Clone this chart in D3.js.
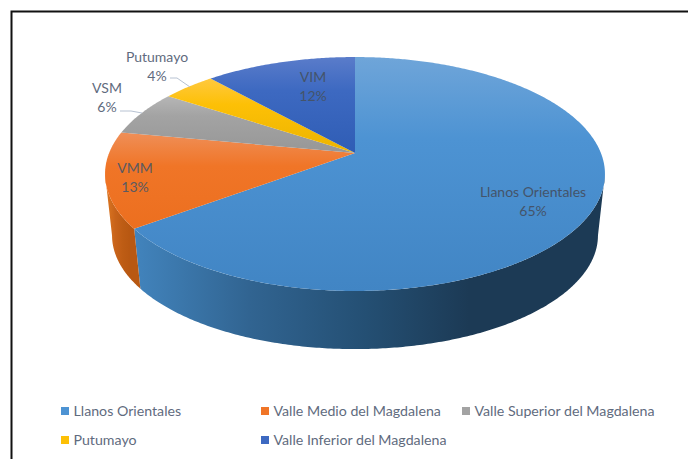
<!DOCTYPE html>
<html>
<head>
<meta charset="utf-8">
<script src="https://d3js.org/d3.v7.min.js"></script>
<style>
  html, body { margin: 0; padding: 0; background: #fff; overflow: hidden; }
  text { font-family: Lato, "Open Sans", sans-serif; }
</style>
</head>
<body>
<script>
var names = ["Llanos Orientales", "Valle Medio del Magdalena", "Valle Superior del Magdalena", "Putumayo", "Valle Inferior del Magdalena"]
var shortNames = ["Llanos Orientales", "VMM", "VSM", "Putumayo", "VIM"]
// the labels round them
var shares = [64.8, 13.2, 6.3, 4.1, 11.6]

var width = 688, height = 459

var topColors = [["#6fa5d9", "#4d93d3", "#4185c4"], ["#ef8f58", "#f07527", "#ec6f1f"], ["#b6b6b6", "#a3a3a3", "#979797"], ["#ffc93f", "#fdc006", "#ecb400"], ["#5a7cca", "#3d69c1", "#2f5db5"]]
var wallColors = [["#4284bd", "#316491", "#244f73", "#1c3a55", "#1c3a55"], ["#d87320", "#c8631a", "#bd5c14", "#b85812", "#b85812"]]

// where each inside/outside label sits, by hand as in the original
var labelPos = [[533, 192], [135, 168], [107, 88], [157, 57], [313, 77]]
var legendPos = [[61, 411], [261, 411], [462, 411], [61, 440], [261, 440]]
var leaders = [[[120, 111], [131, 111], [142, 113]], [[170, 78], [177, 78], [190, 87]]]

var svg = d3.select("body").append("svg")
            .attr("width", width)
            .attr("height", height)

var defs = svg.append("defs")

// frame, only top and left are in the crop
svg.append("path")
   .attr("d", "M11.5," + height + "V11.5H" + width)
   .attr("fill", "none")
   .attr("stroke", "#111")
   .attr("stroke-width", 2)

// disc seen in perspective: unit circle -> screen
var k = 0.1795
var scaleU = d3.scaleLinear().domain([-1, 1]).range([-245.9, 245.9])
var scaleV = d3.scaleLinear().domain([-1, 1]).range([113.2, -113.2])

function project (angle, level) {
  var u = Math.sin(angle), v = Math.cos(angle)
  var d = 1 + k * v
  if (level == "top") return [355 + scaleU(u) / d, 153 + scaleV(v) / d]
  return [355 + 0.972 * scaleU(u) / d, 215 + 0.972 * scaleV(v) / d]
}

function rim (a0, a1, level) {
  var n = Math.max(2, Math.ceil((a1 - a0) / 0.01))
  return d3.range(n + 1).map(i => project(a0 + (a1 - a0) * i / n, level))
}

var arcs = d3.pie().sort(null).value(d => d)(shares)
var line = d3.line()

// only the part of the rim between the two x extremes faces the viewer
var frontStart = Math.acos(-k)
var frontEnd = 2 * Math.PI - frontStart
var walls = arcs.filter(a => a.startAngle < frontEnd && a.endAngle > frontStart)

arcs.forEach((a, i) => {
  var tg = defs.append("linearGradient")
               .attr("id", "top" + i)
               .attr("x1", 0).attr("y1", 0).attr("x2", 0).attr("y2", 1)
  topColors[i].forEach((c, j) => {
    tg.append("stop").attr("offset", j == 0 ? 0 : j == 1 ? 0.35 : 1).attr("stop-color", c)
  })
})

walls.forEach((a, i) => {
  var wg = defs.append("linearGradient")
               .attr("id", "wall" + i)
               .attr("gradientUnits", "userSpaceOnUse")
               .attr("x1", i == 1 ? 108 : 133).attr("y1", 0)
               .attr("x2", i == 1 ? 138 : 600).attr("y2", 0)
  var offs = [0, 0.25, 0.5, 0.72, 1]
  wallColors[i].forEach((c, j) => {
    wg.append("stop").attr("offset", offs[j]).attr("stop-color", c)
  })
})

function wallPath (d) {
  var a0 = Math.max(d.startAngle, frontStart)
  var a1 = Math.min(d.endAngle, frontEnd)
  return line(rim(a0, a1, "top").concat(rim(a0, a1, "bottom").reverse())) + "Z"
}

// walls first, the top sits over them
svg.selectAll(".wall")
   .data(walls)
   .enter()
   .append("path")
   .attr("class", "wall")
   .attr("fill", (d, i) => "url(#wall" + i + ")")
   .attr("d", wallPath)

svg.selectAll(".slice")
   .data(arcs)
   .enter()
   .append("path")
   .attr("class", "slice")
   .attr("fill", (d, i) => "url(#top" + i + ")")
   .attr("d", d => line([[355, 153]].concat(rim(d.startAngle, d.endAngle, "top"))) + "Z")

svg.selectAll(".leader")
   .data(leaders)
   .enter()
   .append("path")
   .attr("class", "leader")
   .attr("fill", "none")
   .attr("stroke", "#b7c2d2")
   .attr("stroke-width", 1)
   .attr("d", d => line(d))

var labelColor = d3.scaleOrdinal().domain(d3.range(5))
                   .range(["#44546a", "#5a5a62", "#5f6b7e", "#5f6b7e", "#44546a"])

var labels = svg.selectAll(".label")
                .data(arcs)
                .enter()
                .append("g")
                .attr("class", "label")
                .attr("transform", (d, i) => "translate(" + labelPos[i] + ")")
                .attr("text-anchor", "middle")
                .attr("font-size", 14)
                .attr("fill", (d, i) => labelColor(i))

labels.append("text")
      .attr("y", 5)
      .text((d, i) => shortNames[i])
labels.append("text")
      .attr("y", 24)
      .text(d => Math.round(d.value) + "%")

var legend = svg.selectAll(".legend")
                .data(names)
                .enter()
                .append("g")
                .attr("class", "legend")
                .attr("transform", (d, i) => "translate(" + legendPos[i] + ")")

legend.append("rect")
      .attr("y", -4)
      .attr("width", 8)
      .attr("height", 8)
      .attr("fill", (d, i) => topColors[i][1])
legend.append("text")
      .attr("x", 12.5)
      .attr("y", 5)
      .attr("font-size", 14.2)
      .attr("fill", "#5f6b7e")
      .text(d => d)
</script>
</body>
</html>
